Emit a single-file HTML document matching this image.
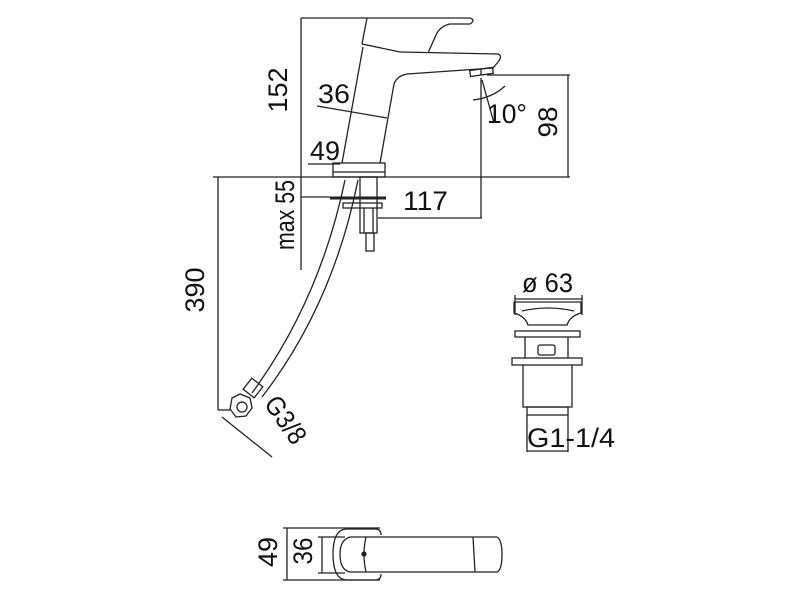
<!DOCTYPE html>
<html><head><style>html,body{margin:0;padding:0;background:#fff}svg{display:block}text{font-family:"Liberation Sans Narrow","Liberation Sans",sans-serif;fill:#111}</style></head>
<body>
<svg width="800" height="600" viewBox="0 0 800 600" xmlns="http://www.w3.org/2000/svg">
<g fill="none" stroke="#222" stroke-width="1.3">
<line x1="301" y1="18" x2="367" y2="18"/>
<line x1="301" y1="18" x2="301" y2="270"/>
<line x1="213" y1="177" x2="570" y2="177"/>
<line x1="487" y1="75" x2="570" y2="75"/>
<line x1="568" y1="75" x2="568" y2="177"/>
<line x1="317" y1="106" x2="387" y2="118"/>
<line x1="308" y1="164" x2="340" y2="164"/>
<line x1="301" y1="197" x2="330" y2="197"/>
<line x1="378" y1="218" x2="482" y2="218"/>
<line x1="481" y1="78" x2="481" y2="218"/>
<line x1="482" y1="80" x2="494" y2="123"/>
<path d="M473 100 Q492 98 505 86"/>
<line x1="218" y1="177" x2="218" y2="410"/>
<line x1="218" y1="410" x2="230" y2="410"/>
<line x1="222" y1="417" x2="272" y2="457"/>
<path d="M367 18 L470 18 Q476 20 470 24 L450 24 Q440 26 436 35 L428 53"/>
<path d="M367 18 L362 44"/>
<path d="M362 44 L400 52"/>
<path d="M363 47 L342 163"/>
<path d="M400 52 L498 54 Q503 56 498 62 L493 68 L407 74 Q397 76 394 84 L380 163"/>
<rect x="470" y="69" width="23" height="6" transform="rotate(-8 481 72)"/>
<line x1="481" y1="69" x2="481" y2="75"/>
<rect x="333" y="163" width="52" height="14"/>
<line x1="333" y1="172" x2="385" y2="172"/>
<line x1="330" y1="198" x2="386" y2="198" stroke-width="3"/>
<rect x="343" y="203" width="39" height="5"/>
<rect x="360" y="177" width="17" height="56"/>
<line x1="364" y1="208" x2="364" y2="233"/>
<line x1="373" y1="208" x2="373" y2="233"/>
<rect x="366" y="233" width="8" height="18"/>
<path d="M345 180 Q320 300 252 393"/>
<path d="M358 180 Q333 305 262 397"/>
<rect x="246" y="381" width="14" height="14" transform="rotate(38 253 388)"/>
<path d="M232 398 l8 -4 l10 4 l2 10 l-6 8 l-10 1 l-6 -8 z"/>
<circle cx="242" cy="407" r="5"/>
<line x1="515" y1="299" x2="582" y2="299"/>
<line x1="515" y1="295" x2="515" y2="315"/>
<line x1="582" y1="295" x2="582" y2="315"/>
<path d="M514 302 L581 302 M514 302 L514 313 Q525 316 528 325 L567 325 Q570 316 581 313 L581 302"/>
<path d="M522 311 Q548 305 574 311"/>
<rect x="515" y="331" width="65" height="6"/>
<path d="M525 337 L525 358 M568 337 L568 358"/>
<rect x="538" y="345" width="17" height="10" rx="2"/>
<rect x="512" y="358" width="70" height="7"/>
<path d="M523 365 L523 407 L572 407 L572 365"/>
<rect x="527" y="407" width="41" height="8"/>
<line x1="527" y1="415" x2="527" y2="452"/>
<line x1="527" y1="451" x2="568" y2="451"/>
<line x1="568" y1="415" x2="568" y2="452"/>
<line x1="287" y1="528" x2="287" y2="580"/>
<line x1="283" y1="528" x2="380" y2="528"/>
<line x1="283" y1="580" x2="380" y2="580"/>
<line x1="322" y1="537" x2="322" y2="573"/>
<line x1="318" y1="537" x2="345" y2="537"/>
<line x1="318" y1="573" x2="345" y2="573"/>
<path d="M346 529 L375 529 Q381 529 381 535 M346 529 Q333 530 333 554 Q333 579 346 580 L375 580 Q381 580 381 574"/>
<path d="M350 537 Q340 540 340 554 Q340 570 350 572"/>
<path d="M350 537 L497 537 Q502 540 502 554 Q502 570 497 572 L350 572"/>
<path d="M366 537 Q362 554 366 572"/>
<line x1="473" y1="537" x2="475" y2="572"/>
<circle cx="364" cy="554" r="2" fill="#222"/>
</g>
<g font-size="27">
<text x="280" y="90" text-anchor="middle" dominant-baseline="middle" transform="rotate(-90 280 90)" textLength="45" lengthAdjust="spacingAndGlyphs">152</text>
<text x="318" y="103" textLength="32" lengthAdjust="spacingAndGlyphs">36</text>
<text x="310" y="160" textLength="30" lengthAdjust="spacingAndGlyphs">49</text>
<text x="487" y="123" textLength="40" lengthAdjust="spacingAndGlyphs">10°</text>
<text x="550" y="122" text-anchor="middle" dominant-baseline="middle" transform="rotate(-90 550 122)" textLength="31" lengthAdjust="spacingAndGlyphs">98</text>
<text x="403" y="210" textLength="45" lengthAdjust="spacingAndGlyphs">117</text>
<text x="287" y="215" text-anchor="middle" dominant-baseline="middle" transform="rotate(-90 287 215)" textLength="70" lengthAdjust="spacingAndGlyphs">max 55</text>
<text x="197" y="290" text-anchor="middle" dominant-baseline="middle" transform="rotate(-90 197 290)" textLength="45" lengthAdjust="spacingAndGlyphs">390</text>
<text x="284" y="421" text-anchor="middle" dominant-baseline="middle" transform="rotate(55 284 421)" textLength="52" lengthAdjust="spacingAndGlyphs">G3/8</text>
<text x="522" y="292" textLength="51" lengthAdjust="spacingAndGlyphs">ø 63</text>
<text x="527" y="447" textLength="88" lengthAdjust="spacingAndGlyphs">G1-1/4</text>
<text x="270" y="552" text-anchor="middle" dominant-baseline="middle" transform="rotate(-90 270 552)" textLength="30" lengthAdjust="spacingAndGlyphs">49</text>
<text x="305" y="551" text-anchor="middle" dominant-baseline="middle" transform="rotate(-90 305 551)" textLength="27" lengthAdjust="spacingAndGlyphs">36</text>
</g>
</svg>
</body></html>
